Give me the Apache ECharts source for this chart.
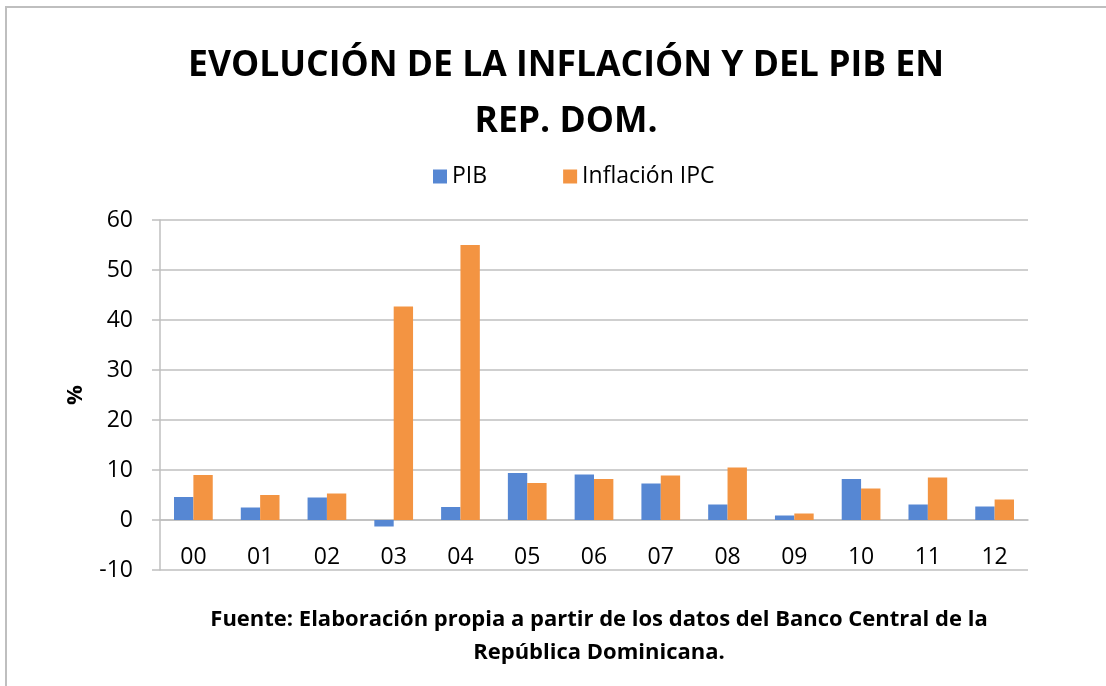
<!DOCTYPE html>
<html>
<head>
<meta charset="utf-8">
<script src="https://cdn.jsdelivr.net/npm/echarts@6/dist/echarts.min.js"></script>
<style>
  html, body { margin: 0; padding: 0; background: #fff; }
  #chart { width: 1106px; height: 686px; }
</style>
</head>
<body>
<div id="chart"></div>
<script>
const years = ['00', '01', '02', '03', '04', '05', '06', '07', '08', '09', '10', '11', '12'];
const pib = [4.6, 2.5, 4.5, -1.3, 2.6, 9.4, 9.1, 7.3, 3.1, 0.9, 8.2, 3.1, 2.7];
const inflacion = [9.0, 5.0, 5.3, 42.7, 55.0, 7.4, 8.2, 8.9, 10.5, 1.3, 6.3, 8.5, 4.1];

const colorPib = '#5687D3';
const colorInf = '#F39442';
const colorGrid = '#BFBFBF';
const font = "'Open Sans', sans-serif";

const chart = echarts.init(document.getElementById('chart'));

chart.setOption({
    animation: false,
    graphic: [{
        type: 'rect',
        shape: { x: 6, y: 7, width: 1300, height: 900 },
        style: { fill: 'none', stroke: colorGrid, lineWidth: 2 },
        silent: true
    }],
    title: [{
        text: 'EVOLUCIÓN DE LA INFLACIÓN Y DEL PIB EN\nREP. DOM.',
        left: 561,
        top: 33,
        textAlign: 'center',
        textStyle: {
            fontFamily: font,
            fontWeight: 'bold',
            fontSize: 35.5,
            lineHeight: 56,
            color: '#000'
        }
    }, {
        text: 'Fuente: Elaboración propia a partir de los datos del Banco Central de la\nRepública Dominicana.',
        left: 594,
        top: 598,
        textAlign: 'center',
        textStyle: {
            fontFamily: font,
            fontWeight: 'bold',
            fontSize: 22,
            lineHeight: 33,
            color: '#000'
        }
    }],
    legend: {
        top: 160,
        left: 428,
        itemWidth: 14,
        itemHeight: 14,
        itemGap: 76,
        icon: 'rect',
        textStyle: { fontFamily: font, fontSize: 23, color: '#000' },
        data: ['PIB', 'Inflación IPC']
    },
    grid: {
        left: 160,
        right: 78,
        top: 220,
        bottom: 116
    },
    xAxis: {
        type: 'category',
        data: years,
        axisLine: { onZero: true, lineStyle: { color: colorGrid, width: 1.5 } },
        axisTick: { show: false },
        axisLabel: { fontFamily: font, fontSize: 23, color: '#000', margin: -24 }
    },
    yAxis: {
        type: 'value',
        min: -10,
        max: 60,
        interval: 10,
        name: '%',
        nameLocation: 'middle',
        nameRotate: 90,
        nameGap: 73,
        nameTextStyle: { fontFamily: font, fontWeight: 'bold', fontSize: 22, color: '#000' },
        axisLine: { show: true, lineStyle: { color: colorGrid, width: 1.5 } },
        axisTick: { show: true, length: 8, lineStyle: { color: colorGrid, width: 1.5 } },
        axisLabel: { fontFamily: font, fontSize: 23, color: '#000', margin: 27 },
        splitLine: { lineStyle: { color: colorGrid, width: 1.5 } }
    },
    series: [{
        name: 'PIB',
        type: 'bar',
        data: pib,
        barGap: '0%',
        barCategoryGap: '42%',
        itemStyle: { color: colorPib }
    }, {
        name: 'Inflación IPC',
        type: 'bar',
        data: inflacion,
        itemStyle: { color: colorInf }
    }]
});
</script>
</body>
</html>
